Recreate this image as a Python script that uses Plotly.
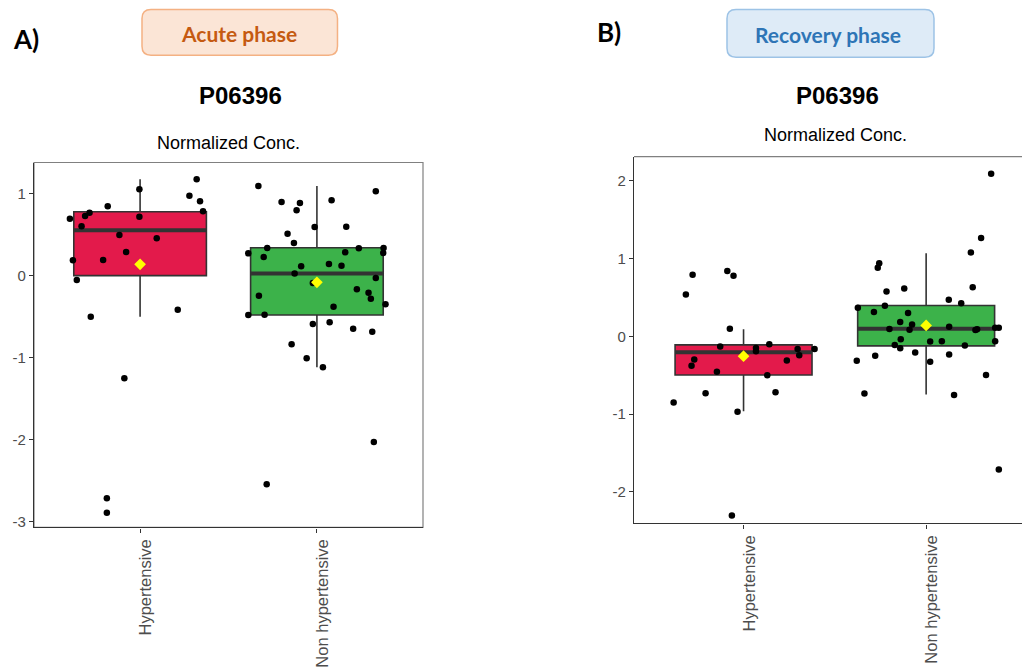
import plotly.graph_objects as go

W, H = 1022, 672

groups = ["Hypertensive", "Non hypertensive"]
group_pos = [1, 2]
fill_colors = ["#E31A4B", "#3CB24A"]

# ---------------- Panel A : Acute phase ----------------
a_hyp_y = [0.695, 0.187, -0.053, 0.602, 0.728, 0.768, -0.500, 0.191, 0.846, 0.496, -1.252,
           0.289, -2.715, -2.890, 1.053, 0.720, 0.455, -0.415, 0.976, 1.175, 0.907, 0.785]
a_hyp_dx = [-0.397, -0.380, -0.358, -0.331, -0.311, -0.286, -0.279, -0.209, -0.183, -0.117, -0.089,
            -0.079, -0.188, -0.188, -0.004, -0.004, 0.094, 0.213, 0.279, 0.320, 0.339, 0.356]
a_non_y = [1.093, 0.898, 0.797, 0.886, 0.919, 1.028, 0.512, 0.593, 0.598, 0.398, 0.272, 0.228,
           0.337, 0.285, 0.333, 0.337, 0.276, 0.114, 0.028, 0.142, 0.122, -0.089, -0.028, -0.167,
           -0.207, -0.280, -0.350, -0.378, -0.244, -0.480, -0.476, -0.589, -0.569, -0.646, -0.683,
           -0.837, -1.008, -1.118, -2.028, -2.545]
a_non_dx = [-0.331, -0.200, -0.115, -0.096, 0.083, 0.333, -0.166, -0.013, 0.166, -0.130, -0.388, -0.301,
            -0.281, 0.160, 0.237, 0.377, 0.375, -0.089, -0.126, 0.068, 0.139, -0.023, 0.333, 0.226,
            0.292, 0.305, 0.388, 0.094, -0.328, -0.388, -0.296, -0.023, 0.072, 0.205, 0.313,
            -0.143, -0.058, 0.034, 0.322, -0.284]
a_q1 = [0.000, -0.480]
a_median = [0.553, 0.028]
a_q3 = [0.780, 0.341]
a_lower = [-0.500, -1.118]
a_upper = [1.175, 1.093]
a_mean = [0.138, -0.081]

# ---------------- Panel B : Recovery phase ----------------
b_hyp_y = [-0.851, 0.536, 0.791, -0.298, -0.379, -0.732, -0.455, -0.132, 0.838, 0.779, 0.098,
           -0.970, -2.302, -0.149, -0.191, -0.102, -0.502, -0.719, -0.311, -0.162, -0.243, -0.162]
b_hyp_dx = [-0.383, -0.316, -0.279, -0.270, -0.285, -0.208, -0.146, -0.128, -0.089, -0.055, -0.075,
            -0.033, -0.064, 0.068, 0.068, 0.141, 0.130, 0.175, 0.237, 0.296, 0.305, 0.389]
b_non_y = [2.089, 1.264, 1.077, 0.630, 0.881, 0.940, 0.574, 0.613, 0.391, 0.366, 0.311, 0.298,
           0.468, 0.426, 0.183, 0.153, 0.094, 0.085, 0.123, 0.081, 0.089, 0.111, 0.111, -0.038,
           -0.068, -0.064, -0.064, -0.111, -0.153, -0.119, -0.209, -0.315, -0.251, -0.328, -0.234,
           -0.498, -0.736, -0.753, -1.711]
b_non_dx = [0.356, 0.301, 0.245, 0.255, -0.265, -0.257, -0.217, -0.120, -0.226, -0.374, -0.286, -0.099,
            0.124, 0.192, -0.142, -0.077, -0.201, -0.091, 0.126, 0.270, 0.279, 0.378, 0.398, -0.139,
            0.022, 0.086, 0.378, -0.172, -0.142, 0.212, -0.060, -0.380, -0.279, 0.022, 0.126,
            0.328, -0.338, 0.153, 0.398]
b_q1 = [-0.498, -0.123]
b_median = [-0.204, 0.098]
b_q3 = [-0.111, 0.396]
b_lower = [-0.962, -0.749]
b_upper = [0.089, 1.068]
b_mean = [-0.255, 0.140]

a_yticks = [-3, -2, -1, 0, 1]
b_yticks = [-2, -1, 0, 1, 2]

BOX_W = 0.75
DARK = "#333333"


def px(x):
    return x / W


def py(y):
    return 1 - y / H


fig = go.Figure()


def add_panel(xa, ya, q1, med, q3, lo, hi, mean, pts):
    for i in range(2):
        fig.add_trace(go.Box(
            x=[group_pos[i]], q1=[q1[i]], median=[med[i]], q3=[q3[i]],
            lowerfence=[lo[i]], upperfence=[hi[i]], width=BOX_W,
            fillcolor=fill_colors[i], line=dict(color=DARK, width=1.6),
            whiskerwidth=0, boxpoints=False, hoverinfo="skip",
            xaxis=xa, yaxis=ya))
        fig.add_trace(go.Scatter(
            x=[group_pos[i] - BOX_W / 2, group_pos[i] + BOX_W / 2], y=[med[i], med[i]],
            mode="lines", line=dict(color=DARK, width=4), hoverinfo="skip",
            xaxis=xa, yaxis=ya))
    for i, (ys, dxs) in enumerate(pts):
        fig.add_trace(go.Scatter(
            x=[group_pos[i] + d for d in dxs], y=ys, mode="markers",
            marker=dict(color="black", size=6.5), hoverinfo="skip",
            xaxis=xa, yaxis=ya))
    fig.add_trace(go.Scatter(
        x=group_pos, y=mean, mode="markers",
        marker=dict(symbol="diamond", color="#FFFF00", size=9), hoverinfo="skip",
        xaxis=xa, yaxis=ya))


add_panel("x", "y", a_q1, a_median, a_q3, a_lower, a_upper, a_mean,
          [(a_hyp_y, a_hyp_dx), (a_non_y, a_non_dx)])
add_panel("x2", "y2", b_q1, b_median, b_q3, b_lower, b_upper, b_mean,
          [(b_hyp_y, b_hyp_dx), (b_non_y, b_non_dx)])

axis_common = dict(showgrid=False, zeroline=False, ticks="outside", ticklen=4,
                   tickcolor=DARK, tickwidth=1.2, showline=True, linecolor=DARK,
                   linewidth=1.4, fixedrange=True)

xtickfont = dict(size=16.5, color="#4D4D4D")
ytickfont = dict(size=15, color="#4D4D4D")

fig.update_layout(
    width=W, height=H, margin=dict(l=0, r=0, t=0, b=0),
    paper_bgcolor="white", plot_bgcolor="white", showlegend=False,
    font=dict(family="Liberation Sans, Arial, sans-serif", color="black"),
    xaxis=dict(domain=[px(34), px(423)], range=[0.4, 2.6], tickvals=group_pos,
               ticktext=groups, tickangle=-90, anchor="y", ticklabelshift=6,
               tickfont=xtickfont, **axis_common),
    yaxis=dict(domain=[py(529), py(163)], range=[-3.07, 1.38], tickvals=a_yticks,
               ticktext=[str(v) for v in a_yticks], anchor="x",
               tickfont=ytickfont, **axis_common),
    xaxis2=dict(domain=[px(634), 1.0], range=[0.4, 2.525], tickvals=group_pos,
                ticktext=groups, tickangle=-90, anchor="y2", ticklabelshift=6,
                tickfont=xtickfont, **axis_common),
    yaxis2=dict(domain=[py(525), py(157)], range=[-2.405, 2.31], tickvals=b_yticks,
                ticktext=[str(v) for v in b_yticks], anchor="x2",
                tickfont=ytickfont, **axis_common),
)


def rounded_rect(x0, y0, x1, y1, r):
    pts = [
        ("M", (x0 + r, y0)), ("L", (x1 - r, y0)), ("Q", (x1, y0), (x1, y0 + r)),
        ("L", (x1, y1 - r)), ("Q", (x1, y1), (x1 - r, y1)), ("L", (x0 + r, y1)),
        ("Q", (x0, y1), (x0, y1 - r)), ("L", (x0, y0 + r)), ("Q", (x0, y0), (x0 + r, y0)),
    ]
    s = ""
    for cmd, *coords in pts:
        s += cmd + " " + " ".join(f"{px(a):.5f},{py(b):.5f}" for a, b in coords) + " "
    return s + "Z"


shapes = [
    dict(type="rect", xref="x domain", yref="y domain", x0=0, x1=1, y0=0, y1=1,
         line=dict(color="#808080", width=1.2), layer="below"),
    dict(type="line", xref="x2 domain", yref="y2 domain", x0=0, x1=1, y0=1, y1=1,
         line=dict(color="#808080", width=1.2), layer="below"),
    dict(type="path", xref="paper", yref="paper",
         path=rounded_rect(142, 9.5, 337.5, 55.5, 9),
         fillcolor="#FBE5D6", line=dict(color="#F4B183", width=1.5), layer="below"),
    dict(type="path", xref="paper", yref="paper",
         path=rounded_rect(727, 9.5, 934, 57.5, 9),
         fillcolor="#DEEBF7", line=dict(color="#9DC3E6", width=1.5), layer="below"),
]
fig.update_layout(shapes=shapes)


def ann(text, x, y, size, color="black", family="Liberation Sans, Arial, sans-serif"):
    return dict(text=text, x=px(x), y=py(y), xref="paper", yref="paper",
                xanchor="center", yanchor="middle", showarrow=False,
                font=dict(size=size, color=color, family=family))


fig.update_layout(annotations=[
    ann("<b>A)</b>", 25.5, 39, 26, family="Lato, sans-serif"),
    ann("<b>B)</b>", 609, 32, 26, family="Lato, sans-serif"),
    ann("<b>Acute phase</b>", 239, 33.5, 21, color="#C55A11", family="Lato, sans-serif"),
    ann("<b>Recovery phase</b>", 828, 35, 21, color="#2E75B6", family="Lato, sans-serif"),
    ann("<b>P06396</b>", 240, 96, 24),
    ann("<b>P06396</b>", 837, 96, 24),
    ann("Normalized Conc.", 228.5, 143, 18),
    ann("Normalized Conc.", 835, 135, 18),
])

fig.write_html("out.html", config={"displayModeBar": False})
